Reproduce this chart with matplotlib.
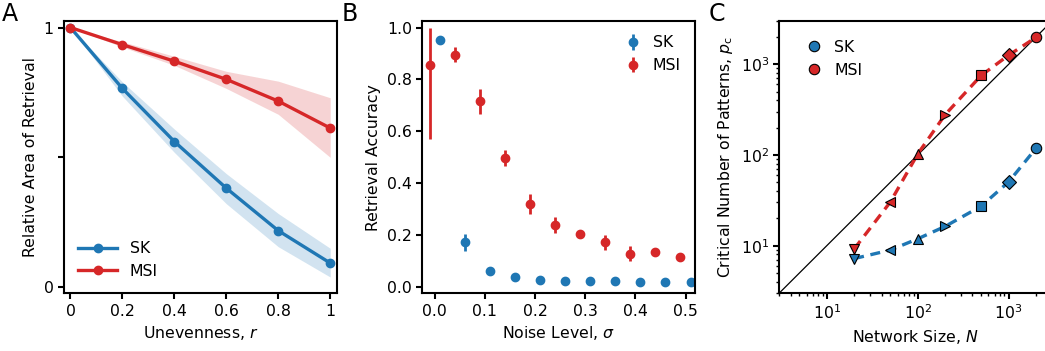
import numpy as np
import matplotlib
matplotlib.use("Agg")
import matplotlib.pyplot as plt
from matplotlib.lines import Line2D

plt.rcParams['font.family'] = ['DejaVu Sans']
plt.rcParams['font.size'] = 11.3
plt.rcParams['axes.linewidth'] = 1.5
plt.rcParams['xtick.major.width'] = 1.5
plt.rcParams['ytick.major.width'] = 1.5
plt.rcParams['xtick.major.size'] = 4
plt.rcParams['ytick.major.size'] = 4
plt.rcParams['xtick.minor.width'] = 1.0
plt.rcParams['ytick.minor.width'] = 1.0
plt.rcParams['xtick.minor.size'] = 2.5
plt.rcParams['ytick.minor.size'] = 2.5

blue = '#1f77b4'
red = '#d62728'

# Panel A: relative area of retrieval vs unevenness
r_vals = [0, 0.2, 0.4, 0.6, 0.8, 1.0]
sk_area = [1.0, 0.765, 0.56, 0.38, 0.216, 0.091]
sk_area_lo = [1.0, 0.735, 0.518, 0.32, 0.154, 0.037]
sk_area_hi = [1.0, 0.79, 0.608, 0.436, 0.282, 0.148]
msi_area = [1.0, 0.934, 0.87, 0.80, 0.716, 0.612]
msi_area_lo = [1.0, 0.925, 0.854, 0.765, 0.665, 0.499]
msi_area_hi = [1.0, 0.945, 0.889, 0.831, 0.793, 0.729]

# Panel B: retrieval accuracy vs noise level
sk_sigma = [0.01, 0.06, 0.11, 0.16, 0.21, 0.26, 0.31, 0.36, 0.41, 0.46, 0.51]
sk_acc = [0.953, 0.171, 0.059, 0.036, 0.027, 0.023, 0.020, 0.020, 0.019, 0.019, 0.018]
sk_err = [0.005, 0.033, 0.006, 0.004, 0.003, 0.003, 0.002, 0.002, 0.002, 0.002, 0.002]
msi_sigma = [-0.01, 0.04, 0.09, 0.14, 0.19, 0.24, 0.29, 0.34, 0.39, 0.44, 0.49]
msi_acc = [0.854, 0.895, 0.715, 0.497, 0.32, 0.238, 0.202, 0.171, 0.126, 0.132, 0.116]
msi_err_lo = [0.284, 0.028, 0.048, 0.03, 0.038, 0.032, 0.015, 0.029, 0.029, 0.01, 0.01]
msi_err_hi = [0.146, 0.028, 0.048, 0.03, 0.038, 0.032, 0.015, 0.029, 0.029, 0.01, 0.01]

# Panel C: critical number of patterns vs network size
net_size = [20, 50, 100, 200, 500, 1000, 2000]
sk_pc = [7.2, 8.95, 11.9, 16.3, 27.3, 50.5, 118.6]
msi_pc = [9.2, 30.3, 102.5, 278, 755, 1260, 1980]
shapes = ['v', '<', '^', '>', 's', 'D', 'o']

fig = plt.figure(figsize=(10.45, 3.51), dpi=100)
axA = fig.add_axes([0.0612, 0.165, 0.261, 0.775])
axB = fig.add_axes([0.4041, 0.165, 0.261, 0.775])
axC = fig.add_axes([0.7457, 0.165, 0.261, 0.775])

# A
axA.fill_between(r_vals, sk_area_lo, sk_area_hi, color=blue, alpha=0.2, lw=0)
axA.fill_between(r_vals, msi_area_lo, msi_area_hi, color=red, alpha=0.2, lw=0)
axA.plot(r_vals, sk_area, '-o', color=blue, lw=2.4, ms=6, label='SK')
axA.plot(r_vals, msi_area, '-o', color=red, lw=2.4, ms=6, label='MSI')
axA.set_xlim(-0.025, 1.025)
axA.set_ylim(-0.025, 1.025)
axA.set_xticks([0, 0.2, 0.4, 0.6, 0.8, 1.0])
axA.set_xticklabels(['0', '0.2', '0.4', '0.6', '0.8', '1'])
axA.set_yticks([0, 0.5, 1])
axA.set_yticklabels(['0', '', '1'])
axA.set_xlabel('Unevenness, $r$')
axA.set_ylabel('Relative Area of Retrieval')
axA.legend(loc='lower left', frameon=False, handlelength=2.5)

# B
axB.errorbar(sk_sigma, sk_acc, yerr=sk_err, fmt='o', color=blue, ms=6,
             elinewidth=2, capsize=0, label='SK')
axB.errorbar(msi_sigma, msi_acc, yerr=[msi_err_lo, msi_err_hi], fmt='o',
             color=red, ms=6, elinewidth=2, capsize=0, label='MSI')
axB.set_xlim(-0.025, 0.519)
axB.set_ylim(-0.025, 1.025)
axB.set_xticks([0, 0.1, 0.2, 0.3, 0.4, 0.5])
axB.set_yticks([0, 0.2, 0.4, 0.6, 0.8, 1.0])
axB.set_xlabel(r'Noise Level, $\sigma$')
axB.set_ylabel('Retrieval Accuracy')
axB.legend(loc='upper right', frameon=False, handletextpad=0.3)

# C
axC.plot([3, 3000], [3, 3000], color='black', lw=0.9)
axC.plot(net_size, msi_pc, '--', color=red, lw=2.4, dashes=(3, 2))
axC.plot(net_size, sk_pc, '--', color=blue, lw=2.4, dashes=(3, 2))
for n, s, m, mk in zip(net_size, sk_pc, msi_pc, shapes):
    axC.plot(n, s, marker=mk, color=blue, mec='black', mew=0.8, ms=7.5, ls='none')
    axC.plot(n, m, marker=mk, color=red, mec='black', mew=0.8, ms=7.5, ls='none')
axC.set_xscale('log')
axC.set_yscale('log')
axC.set_xlim(3, 3000)
axC.set_ylim(3, 3000)
axC.set_xlabel('Network Size, $N$')
axC.set_ylabel(r'Critical Number of Patterns, $p_\mathrm{c}$')
handles = [Line2D([], [], marker='o', ls='none', color=blue, mec='black', mew=0.8, ms=7.5),
           Line2D([], [], marker='o', ls='none', color=red, mec='black', mew=0.8, ms=7.5)]
axC.legend(handles, ['SK', 'MSI'], loc='upper left', frameon=False, handletextpad=0.3,
           borderaxespad=0.8)

fig.text(0.002, 0.995, 'A', fontsize=17, va='top', ha='left')
fig.text(0.327, 0.995, 'B', fontsize=17, va='top', ha='left')
fig.text(0.678, 0.995, 'C', fontsize=17, va='top', ha='left')

fig.savefig('out.png', dpi=100)
